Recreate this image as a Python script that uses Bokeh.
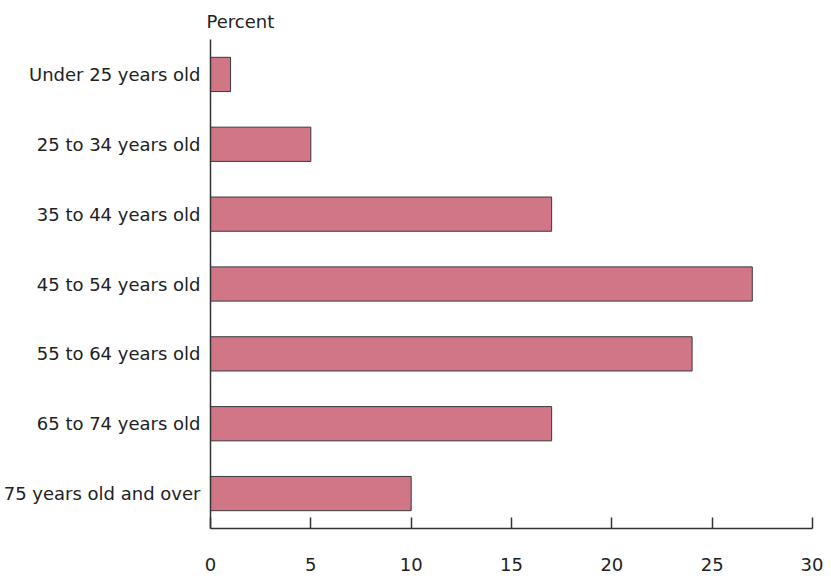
from bokeh.plotting import figure
from bokeh.models import FixedTicker, ColumnDataSource
from bokeh.embed import file_html
from bokeh.resources import INLINE

categories = ["Under 25 years old", "25 to 34 years old", "35 to 44 years old",
              "45 to 54 years old", "55 to 64 years old", "65 to 74 years old",
              "75 years old and over"]
percent = [1, 5, 17, 27, 24, 17, 10]
x_ticks = [0, 5, 10, 15, 20, 25, 30]

FONT = "DejaVu Sans"
FS = "18px"

p = figure(width=823, height=578, y_range=list(reversed(categories)), x_range=(0, 30),
           output_backend="svg", toolbar_location=None,
           min_border_left=209, min_border_right=11, min_border_top=38, min_border_bottom=50)
p.title.text = "Percent"
p.title.text_font = FONT
p.title.text_font_size = FS
p.title.text_font_style = "normal"
p.title.text_color = "#222222"
p.title.offset = -4
p.title.standoff = 16
p.y_range.range_padding = 0

src = ColumnDataSource(dict(cat=categories, val=percent))
p.hbar(y="cat", right="val", left=0, height=0.49, source=src,
       fill_color="#D07686", line_color="#3a3a3a", line_width=1)

p.grid.visible = False
p.outline_line_color = None
p.background_fill_color = "white"

xa = p.xaxis[0]
xa.ticker = FixedTicker(ticks=x_ticks)
xa.major_tick_in = 11
xa.major_tick_out = 0
xa.minor_tick_line_color = None
xa.major_label_standoff = 29
xa.axis_line_color = "#333333"
xa.major_tick_line_color = "#333333"
xa.axis_line_width = 1.5
xa.major_tick_line_width = 1.5
xa.major_label_text_font = FONT
xa.major_label_text_font_size = FS
xa.major_label_text_color = "#222222"

ya = p.yaxis[0]
ya.major_tick_line_color = None
ya.minor_tick_line_color = None
ya.axis_line_color = "#333333"
ya.axis_line_width = 1.5
ya.major_label_standoff = 4
ya.major_label_text_font = FONT
ya.major_label_text_font_size = FS
ya.major_label_text_color = "#222222"

open("out.html", "w").write(file_html(p, INLINE))
